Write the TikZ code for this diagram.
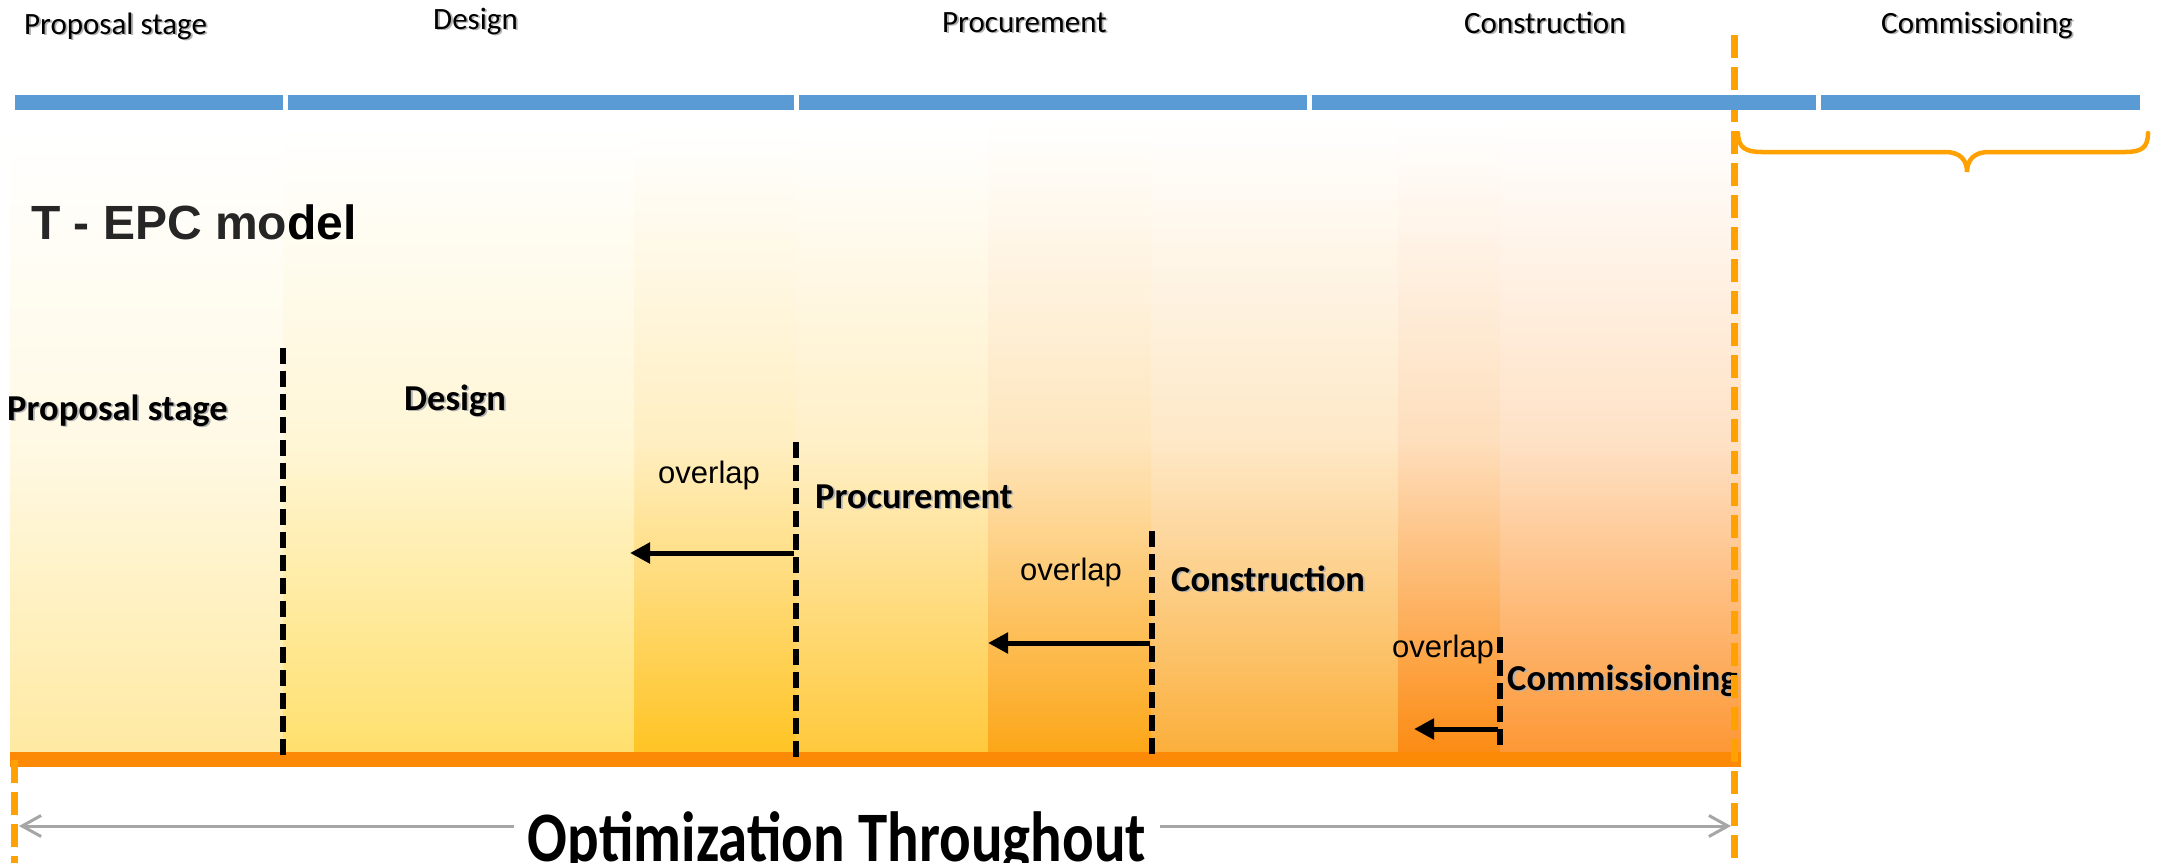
\documentclass[tikz,border=0pt]{standalone}
\usepackage{fontspec}
\setmainfont{Carlito}
\newfontfamily\arialf{Liberation Sans}
\newfontfamily\optf{Carlito}[FakeStretch=0.83]
\usetikzlibrary{arrows.meta}
\definecolor{zA}{HTML}{FFE9A0}
\definecolor{zB}{HTML}{FFDF6A}
\definecolor{zC}{HTML}{FFC320}
\definecolor{zD}{HTML}{FFC838}
\definecolor{zE}{HTML}{FCA514}
\definecolor{zF}{HTML}{FBAE38}
\definecolor{zG}{HTML}{FC8A10}
\definecolor{zH}{HTML}{FD9632}
\definecolor{obar}{HTML}{FD8A06}
\definecolor{orng}{HTML}{FFA100}
\definecolor{barblue}{HTML}{5B9BD5}
\definecolor{grayarrow}{HTML}{A6A6A6}
\definecolor{darktxt}{HTML}{262626}
\newcommand\shd[1]{\leavevmode\rlap{\hspace*{1.8pt}\raisebox{-1.8pt}{\color{black!30}#1}}#1}
\tikzset{
  panel/.style={top color=white, bottom color=#1, middle color=#1!28!white},
  blackdash/.style={line width=5.5pt, dash pattern=on 16pt off 7pt},
  orangedash/.style={draw=orng, line width=7pt, dash pattern=on 23pt off 9pt},
  ovarrow/.style={line width=5pt, -{Triangle[length=20pt,width=20pt]}},
  toplabel/.style={anchor=base west, inner sep=0pt, font=\fontsize{31}{36}\selectfont},
  stagelabel/.style={anchor=base west, inner sep=0pt, font=\fontsize{36.5}{42}\selectfont\bfseries},
  ovlabel/.style={anchor=base west, inner sep=0pt, font=\arialf\fontsize{31}{36}\selectfont},
  bluebar/.style={fill=barblue},
}
\begin{document}
\begin{tikzpicture}[x=1pt,y=-1pt]
\useasboundingbox (0,0) rectangle (2159,862);
\fill[white] (0,0) rectangle (2159,862);
% panels
\shade[panel=zA] (10,128) rectangle (283,760);
\shade[panel=zB] (283,128) rectangle (634,760);
\shade[panel=zC] (634,128) rectangle (796,760);
\shade[panel=zD] (796,128) rectangle (988,760);
\shade[panel=zE] (988,122) rectangle (1151,760);
\shade[panel=zF] (1151,122) rectangle (1398,760);
\shade[panel=zG] (1398,122) rectangle (1500,760);
\shade[panel=zH] (1500,122) rectangle (1741,760);
% orange base bar
\fill[obar] (10,752) rectangle (1741,767);
% black dashed separators
\coordinate (d1t) at (283,348); \coordinate (d1b) at (283,760);
\coordinate (d2t) at (796,442); \coordinate (d2b) at (796,760);
\coordinate (d3t) at (1152,531); \coordinate (d3b) at (1152,760);
\coordinate (d4t) at (1500,637); \coordinate (d4b) at (1500,752);
\draw[blackdash] (d1t) -- (d1b);
\draw[blackdash] (d2t) -- (d2b);
\draw[blackdash] (d3t) -- (d3b);
\draw[blackdash] (d4t) -- (d4b);
% overlap arrows
\coordinate (a1s) at (794,553); \coordinate (a1e) at (630,553);
\coordinate (a2s) at (1150,643); \coordinate (a2e) at (988,643);
\coordinate (a3s) at (1498,729); \coordinate (a3e) at (1414,729);
\draw[ovarrow] (a1s) -- (a1e);
\draw[ovarrow] (a2s) -- (a2e);
\draw[ovarrow] (a3s) -- (a3e);
% title
\node[anchor=base west, inner sep=0pt, font=\arialf\bfseries\fontsize{48}{56}\selectfont] (title) at (31,239) {\textcolor{darktxt}{T - EPC mo}del};
% stage labels
\node[stagelabel] (sProp) at (7,420) {\shd{Proposal stage}};
\node[stagelabel] (sDes) at (404,410) {\shd{Design}};
\node[stagelabel] (sProc) at (815,508) {\shd{Procurement}};
\node[stagelabel] (sCons) at (1171,591) {\shd{Construction}};
\node[stagelabel] (sComm) at (1507,690) {\shd{Commissioning}};
% overlap labels
\node[ovlabel] (ov1) at (658,483) {overlap};
\node[ovlabel] (ov2) at (1020,580) {overlap};
\node[ovlabel] (ov3) at (1392,657) {overlap};
% orange dashed lines
\coordinate (or1t) at (1734,35); \coordinate (or1b) at (1734,870);
\coordinate (or2t) at (14,760); \coordinate (or2b) at (14,870);
\draw[orangedash] (or1t) -- (or1b);
\draw[orangedash] (or2t) -- (or2b);
% brace
\coordinate (bl) at (1738,133); \coordinate (btip) at (1967,172); \coordinate (br) at (2148,133);
\draw[orng, line width=4.5pt, line cap=round]
  (bl) .. controls (1738,148) and (1746,152) .. (1762,152)
  -- (1945,152) .. controls (1960,152) and (1967,160) .. (btip)
  .. controls (1967,160) and (1974,152) .. (1989,152)
  -- (2125,152) .. controls (2141,152) and (2148,148) .. (br);
% blue timeline bar
\fill[bluebar] (15,95) rectangle (283,110);
\fill[bluebar] (288,95) rectangle (794,110);
\fill[bluebar] (799,95) rectangle (1307,110);
\fill[bluebar] (1312,95) rectangle (1816,110);
\fill[bluebar] (1821,95) rectangle (2140,110);
% top labels
\node[toplabel] (tProp) at (24,34) {\shd{Proposal stage}};
\node[toplabel] (tDes) at (433,29) {\shd{Design}};
\node[toplabel] (tProc) at (942,32) {\shd{Procurement}};
\node[toplabel] (tCons) at (1464,33) {\shd{Construction}};
\node[toplabel] (tComm) at (1881,33) {\shd{Commissioning}};
% optimization arrow
\coordinate (gl) at (19,826); \coordinate (gr) at (1731,826);
\draw[grayarrow, line width=3pt, {Straight Barb[length=19pt,width=21pt]}-{Straight Barb[length=19pt,width=21pt]}] (gl) -- (gr);
\node[anchor=base, fill=white, inner xsep=14pt, inner ysep=2pt, font=\optf\bfseries\fontsize{71}{80}\selectfont] (opt) at (837,861) {Optimization Throughout};
\end{tikzpicture}
\end{document}
